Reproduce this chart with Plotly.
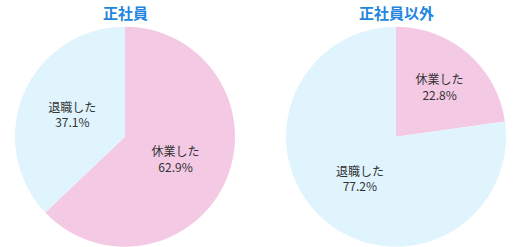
import plotly.graph_objects as go

labels = ["休業した", "退職した"]
regular = [62.9, 37.1]
nonregular = [22.8, 77.2]
titles = ["正社員", "正社員以外"]
colors = ["#F4C9E4", "#E0F4FE"]

W, H = 522, 247
font = "Noto Sans CJK JP"

fig = go.Figure()
domains = [
    dict(x=[15 / W, 235 / W], y=[0.3 / H, 220.3 / H]),
    dict(x=[286 / W, 506 / W], y=[0.3 / H, 220.3 / H]),
]
for vals, dom in zip([regular, nonregular], domains):
    fig.add_trace(go.Pie(
        labels=labels, values=vals, domain=dom, sort=False,
        direction="clockwise", rotation=0,
        marker=dict(colors=colors, line=dict(width=0)),
        texttemplate="%{label}<br>%{value:.1f}%",
        textposition="inside", insidetextorientation="horizontal",
        textfont=dict(family=font, size=12, color="#333333"),
        hoverinfo="label+value", showlegend=False,
    ))

for t, dom in zip(titles, domains):
    fig.add_annotation(
        text="<b>" + t + "</b>", x=(dom["x"][0] + dom["x"][1]) / 2, y=1 - 12 / H,
        xref="paper", yref="paper", showarrow=False, xanchor="center", yanchor="middle",
        font=dict(family=font, size=15, color="#2286E0"),
    )

fig.update_layout(
    width=W, height=H, margin=dict(l=0, r=0, t=0, b=0),
    paper_bgcolor="white", plot_bgcolor="white",
)
fig.write_html("out.html")
